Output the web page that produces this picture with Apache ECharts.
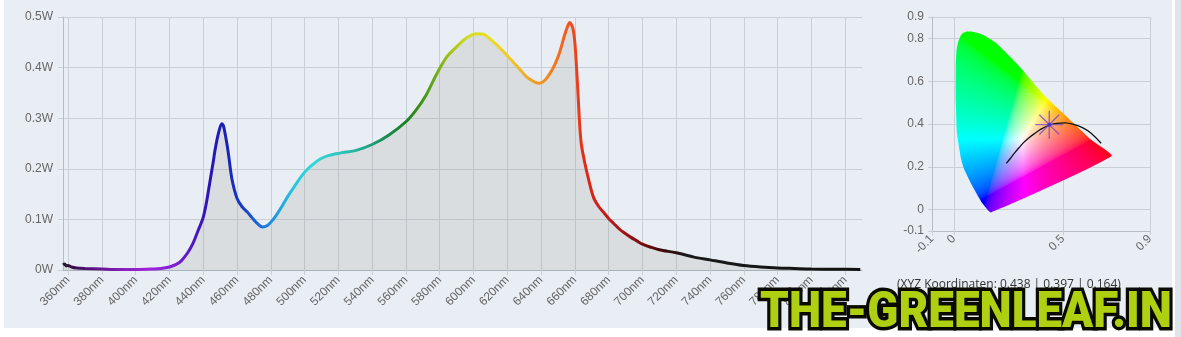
<!DOCTYPE html>
<html><head><meta charset="utf-8">
<script src="https://cdn.jsdelivr.net/npm/echarts@6/dist/echarts.min.js"></script>
<style>
html,body{margin:0;padding:0;width:1181px;height:337px;overflow:hidden;background:#ffffff}
#panel{position:absolute;left:4px;top:0;width:1168px;height:328px;background:#e9eef4}
#strip{position:absolute;left:1175px;top:0;width:6px;height:337px;background:#dfe5eb}
#chart{position:absolute;left:0;top:0;width:1181px;height:337px}
</style></head>
<body><div id="panel"></div><div id="strip"></div><div id="chart"></div>
<script>
// ---- spectrum data ----
const wavelengths = [357,358,359,360,362,365,370,380,390,400,410,415,420,424,427,431,434,437,440,442,444,446,447,449,451,452,454,455,457,460,463,466,469,472,475,478,481,484,487,490,493,496,499,502,505,509,514,521,531,540,550,560,566,572,578,584,590,596,602,606,609,612,615,621,627,632,636,639,642,645,648,651,654,656,657,658,659,660,661,662,663,664,666,668,671,674,677,680,683,686,689,693,697,700,705,710,720,730,740,750,760,770,780,790,800,815,829];
const power = [0.010,0.012,0.008,0.009,0.006,0.004,0.003,0.002,0.001,0.001,0.002,0.003,0.006,0.011,0.018,0.035,0.053,0.078,0.104,0.135,0.175,0.215,0.237,0.270,0.289,0.285,0.250,0.228,0.180,0.142,0.125,0.115,0.103,0.092,0.085,0.088,0.098,0.112,0.128,0.145,0.160,0.175,0.189,0.200,0.209,0.219,0.226,0.231,0.237,0.248,0.267,0.293,0.316,0.346,0.386,0.420,0.441,0.459,0.467,0.466,0.459,0.450,0.441,0.420,0.398,0.380,0.372,0.369,0.374,0.387,0.405,0.430,0.465,0.484,0.489,0.485,0.475,0.450,0.400,0.340,0.280,0.245,0.210,0.181,0.144,0.126,0.114,0.102,0.092,0.082,0.074,0.065,0.057,0.051,0.045,0.040,0.034,0.026,0.020,0.014,0.009,0.006,0.004,0.003,0.002,0.0015,0.001];
const nmTicks = [360,380,400,420,440,460,480,500,520,540,560,580,600,620,640,660,680,700,720,740,760,780,800,820];
const powerTicks = [0,0.1,0.2,0.3,0.4,0.5];
// line colour per wavelength
const colorNm = [357,362,375,395,410,425,435,445,455,465,475,485,495,505,520,535,548,560,572,585,597,608,620,632,642,652,658,665,680,695,710,725,829];
const colorHex = ['#202020','#301040','#5a1080','#8a20c0','#a020e0','#7a1ed0','#4d18c0','#2a14b0','#1a22b8','#1840c8','#1a70d8','#20a0e0','#28c8e0','#30d8d8','#30c8c0','#20a890','#1a8c50','#1a8020','#4a9a18','#9cc018','#d4dc20','#e8e020','#f0cc28','#f0a828','#f08c20','#f06820','#f04c20','#e02c18','#c01818','#8a1010','#400808','#1a1a1a','#111111'];

// ---- chromaticity data ----
const locusX = [0.171,0.133,0.088,0.050,0.035,0.015,0.009,0.009,0.012,0.019,0.030,0.042,0.060,0.080,0.105,0.133,0.194,0.300,0.421,0.512,0.633,0.724];
const locusY = [-0.013,0.027,0.105,0.183,0.230,0.355,0.510,0.668,0.740,0.780,0.810,0.825,0.832,0.832,0.826,0.817,0.778,0.670,0.527,0.440,0.324,0.250];
const planckX = [0.241,0.260,0.280,0.300,0.320,0.345,0.370,0.400,0.436,0.470,0.510,0.550,0.590,0.630,0.676];
const planckY = [0.216,0.240,0.266,0.290,0.313,0.336,0.355,0.376,0.394,0.403,0.405,0.398,0.383,0.357,0.310];
const xyzCoords = [0.438,0.397,0.164];
const cieXTicks = [-0.1,0,0.5,0.9];
const cieYTicks = [-0.1,0,0.2,0.4,0.6,0.8,0.9];

const gridColor = '#c8cfd6';
const labelColor = '#666';

function xyToRgb(x, y) {
  if (y < 0.0005) y = 0.0005;
  const X = x / y, Y = 1, Z = (1 - x - y) / y;
  let r = 3.2406*X - 1.5372*Y - 0.4986*Z;
  let g = -0.9689*X + 1.8758*Y + 0.0415*Z;
  let b = 0.0557*X - 0.2040*Y + 1.0570*Z;
  r = Math.max(0, r); g = Math.max(0, g); b = Math.max(0, b);
  const m = Math.max(r, g, b) || 1;
  const gm = v => { v /= m; return v <= 0.0031308 ? 12.92*v : 1.055*Math.pow(v, 1/2.4) - 0.055; };
  return [gm(r)*255, gm(g)*255, gm(b)*255];
}

let gamutCache = null;
function renderGamut(params, api) {
  const pts = locusX.map((x, i) => api.coord([x, locusY[i]]));
  const p0 = api.coord([0, 0]), p1 = api.coord([1, 1]);
  const sx = p1[0] - p0[0], sy = p1[1] - p0[1];
  let minX = Infinity, minY = Infinity, maxX = -Infinity, maxY = -Infinity;
  pts.forEach(p => { minX = Math.min(minX, p[0]); maxX = Math.max(maxX, p[0]); minY = Math.min(minY, p[1]); maxY = Math.max(maxY, p[1]); });
  const bx = Math.floor(minX) - 1, by = Math.floor(minY) - 1;
  const w = Math.ceil(maxX - bx) + 2, h = Math.ceil(maxY - by) + 2;
  const key = [bx, by, w, h, sx, sy].join(',');
  if (!gamutCache || gamutCache.key !== key) {
    const cv = document.createElement('canvas');
    cv.width = w; cv.height = h;
    const ctx = cv.getContext('2d');
    const img = ctx.createImageData(w, h);
    for (let j = 0; j < h; j++) {
      for (let i = 0; i < w; i++) {
        const cx = (bx + i + 0.5 - p0[0]) / sx;
        const cy = (by + j + 0.5 - p0[1]) / sy;
        const c = xyToRgb(cx, cy);
        const k = (j*w + i)*4;
        img.data[k] = c[0]; img.data[k+1] = c[1]; img.data[k+2] = c[2]; img.data[k+3] = 255;
      }
    }
    ctx.putImageData(img, 0, 0);
    gamutCache = { key: key, canvas: cv };
  }
  return {
    type: 'polygon',
    shape: { points: pts, smooth: 0.15 },
    style: { fill: { image: gamutCache.canvas, repeat: 'no-repeat', x: bx, y: by }, stroke: null }
  };
}

const nmMin = 357, nmMax = 829;
const lineGradient = {
  type: 'linear', x: 0, y: 0, x2: 1, y2: 0,
  colorStops: colorNm.map((n, i) => ({ offset: (n - nmMin) / (nmMax - nmMin), color: colorHex[i] }))
};

const fmt1 = v => String(Math.round(v * 10) / 10);

// watermark width fit
const wmText = 'THE-GREENLEAF.IN';
const wmFont = '900 50px Roboto';
const mctx = document.createElement('canvas').getContext('2d');
mctx.font = wmFont;
const wmScale = 412 / mctx.measureText(wmText).width;

const chart = echarts.init(document.getElementById('chart'), null, { renderer: 'canvas' });
chart.setOption({
  animation: false,
  grid: [
    { left: 63, top: 17, right: 319, bottom: 67 },
    { left: 932, top: 17, width: 218, height: 214 }
  ],
  xAxis: [
    {
      gridIndex: 0, type: 'value', min: 357, max: 830,
      axisLine: { show: true, onZero: false, lineStyle: { color: '#a9b1b9' } },
      axisTick: { show: true, customValues: nmTicks, length: 5, lineStyle: { color: gridColor } },
      axisLabel: { customValues: nmTicks, rotate: 45, margin: 8, color: labelColor, fontSize: 12, fontFamily: 'Liberation Sans, sans-serif', formatter: v => v + 'nm' },
      splitLine: { show: true, lineStyle: { color: gridColor } }
    },
    {
      gridIndex: 1, type: 'value', min: -0.1, max: 0.9,
      axisLine: { show: true, onZero: false, lineStyle: { color: '#b5bcc4' } },
      axisTick: { show: true, customValues: cieXTicks, length: 4, lineStyle: { color: gridColor } },
      axisLabel: { customValues: cieXTicks, rotate: 45, margin: 6, color: labelColor, fontSize: 12, fontFamily: 'Liberation Sans, sans-serif', formatter: fmt1 },
      splitLine: { show: true, lineStyle: { color: gridColor } }
    }
  ],
  yAxis: [
    {
      gridIndex: 0, type: 'value', min: 0, max: 0.5, interval: 0.1,
      axisLine: { show: true, lineStyle: { color: '#b5bcc4' } },
      axisTick: { show: true, length: 5, lineStyle: { color: gridColor } },
      axisLabel: { margin: 10, color: labelColor, fontSize: 12, fontFamily: 'Liberation Sans, sans-serif', formatter: v => fmt1(v) + 'W' },
      splitLine: { show: true, lineStyle: { color: gridColor } }
    },
    {
      gridIndex: 1, type: 'value', min: -0.1, max: 0.9,
      axisLine: { show: true, onZero: false, lineStyle: { color: '#b5bcc4' } },
      axisTick: { show: true, customValues: cieYTicks, length: 4, lineStyle: { color: gridColor } },
      axisLabel: { customValues: cieYTicks, margin: 8, color: labelColor, fontSize: 12, fontFamily: 'Liberation Sans, sans-serif', formatter: fmt1 },
      splitLine: { show: true, lineStyle: { color: gridColor } }
    }
  ],
  series: [
    {
      type: 'line', xAxisIndex: 0, yAxisIndex: 0,
      data: wavelengths.map((w, i) => [w, power[i]]),
      smooth: 0.3, symbol: 'none', silent: true,
      lineStyle: { width: 3, color: lineGradient },
      areaStyle: { color: 'rgba(160,162,158,0.32)' }
    },
    {
      type: 'custom', xAxisIndex: 1, yAxisIndex: 1, silent: true,
      data: [[0.3, 0.3]], renderItem: renderGamut, z: 2
    },
    {
      type: 'line', xAxisIndex: 1, yAxisIndex: 1, silent: true,
      data: planckX.map((x, i) => [x, planckY[i]]),
      smooth: 0.3, symbol: 'none', lineStyle: { color: '#111', width: 1.3 }, z: 3
    },
    {
      type: 'scatter', xAxisIndex: 1, yAxisIndex: 1, silent: true, z: 4,
      data: [[xyzCoords[0], xyzCoords[1]]],
      symbol: 'path://M12,0L12,24M0,12L24,12M3.5,3.5L20.5,20.5M3.5,20.5L20.5,3.5',
      symbolSize: 28,
      itemStyle: { color: 'rgba(0,0,0,0)', borderColor: '#7a4cc0', borderWidth: 1.4 }
    },
    {
      type: 'scatter', xAxisIndex: 1, yAxisIndex: 1, silent: true, z: 5,
      data: [[xyzCoords[0], xyzCoords[1]]],
      symbol: 'circle', symbolSize: 4, itemStyle: { color: '#3a2ad8' }
    }
  ],
  graphic: [
    {
      type: 'text', left: 897, top: 279, silent: true,
      style: { text: '(XYZ Koordinaten: ' + xyzCoords.join(' | ') + ')', font: '12px "Open Sans", sans-serif', fill: '#333' }
    },
    {
      type: 'text', x: 760, y: 314, scaleX: wmScale, scaleY: 1, silent: true, z: 100, zlevel: 1,
      style: {
        text: wmText, font: wmFont, verticalAlign: 'middle', align: 'left',
        fill: '#0a0a00', stroke: '#0a0a00', lineWidth: 7,
        shadowColor: 'rgba(0,0,0,0.45)', shadowBlur: 3, shadowOffsetY: 1
      }
    },
    {
      type: 'text', x: 760, y: 314, scaleX: wmScale, scaleY: 1, silent: true, z: 101, zlevel: 2,
      style: {
        text: wmText, font: wmFont, verticalAlign: 'middle', align: 'left',
        fill: '#aed010'
      }
    }
  ]
});
</script>
</body></html>
